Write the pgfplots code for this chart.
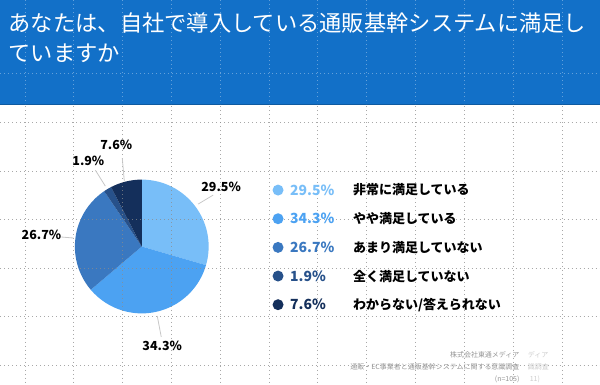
\documentclass[border=0pt]{standalone}
\usepackage{pgfplots}
\pgfplotsset{compat=1.18}
\usepackage{fontspec}
\setmainfont{Noto Sans CJK JP}
\definecolor{bar}{RGB}{18,112,200}
\definecolor{c1}{RGB}{120,190,248}
\definecolor{c2}{RGB}{76,162,242}
\definecolor{c3}{RGB}{58,120,192}
\definecolor{c4}{RGB}{39,81,138}
\definecolor{c5}{RGB}{20,47,91}
\definecolor{gridc}{RGB}{140,140,140}
\definecolor{lead}{RGB}{200,200,200}
\definecolor{foot}{RGB}{150,150,150}
\definecolor{ghost}{RGB}{205,205,205}
\begin{document}
\begin{tikzpicture}
\begin{axis}[x=1pt,y=1pt,xmin=0,xmax=600,ymin=0,ymax=384,y dir=reverse,
  hide axis,clip=false]
\pgfplotsextra{
  % background and title bar
  \fill[white] (axis cs:0,0) rectangle (axis cs:600,384);
  \fill[bar] (axis cs:0,0) rectangle (axis cs:600,105);
  \draw[bar!80!black,line width=1pt] (axis cs:0,104.5) -- (axis cs:600,104.5);
  % pie
  \def\cx{141.5}\def\cy{246.5}\def\R{67}
  \gdef\cum{0}
  \foreach \p/\c in {29.5/c1,34.3/c2,26.7/c3,1.9/c4,7.6/c5}{
    \pgfmathsetmacro\a{90-3.6*\cum}
    \pgfmathsetmacro\b{90-3.6*(\cum+\p)}
    \fill[\c] (axis cs:\cx,\cy) -- ++(\a:\R pt) arc[start angle=\a,end angle=\b,radius=\R pt] -- cycle;
    \pgfmathsetmacro\n{\cum+\p}\xdef\cum{\n}
  }
  % grid
  \foreach \gx in {24.5,73.4,122.3,171.2,220.1,269,317.9,366.8,415.7,464.6,513.5,562.4}{
    \draw[gridc,opacity=0.75,line width=0.8pt,dash pattern=on 0.8pt off 3.2pt] (axis cs:\gx,106) -- (axis cs:\gx,384);
    \draw[white,opacity=0.35,line width=0.8pt,dash pattern=on 0.8pt off 3.2pt] (axis cs:\gx,0) -- (axis cs:\gx,104);
  }
  \foreach \gy in {122,171,219.5,268,317,366}{
    \draw[gridc,opacity=0.75,line width=0.8pt,dash pattern=on 0.8pt off 3.2pt] (axis cs:0,\gy) -- (axis cs:600,\gy);
  }
  \draw[white,opacity=0.35,line width=0.8pt,dash pattern=on 0.8pt off 3.2pt] (axis cs:0,73) -- (axis cs:600,73);
  % leader lines
  \draw[lead,line width=0.8pt] (axis cs:198,204) -- (axis cs:213,195);
  \draw[lead,line width=0.8pt] (axis cs:157,316) -- (axis cs:161,337);
  \draw[lead,line width=0.8pt] (axis cs:73,238) -- (axis cs:61,237);
  \draw[lead,line width=0.8pt] (axis cs:105,186) -- (axis cs:95,170);
  \draw[lead,line width=0.8pt] (axis cs:124,181) -- (axis cs:122,158);
  % pie labels
  \foreach \lx/\ly/\t in {221/187/29.5, 162/346/34.3, 41/235/26.7, 88/161/1.9, 116/145/7.6}{
    \node[inner sep=0,font=\fontsize{12.5}{14}\selectfont\bfseries] at (axis cs:\lx,\ly) {\t\%};
  }
  % title
  \node[anchor=west,inner sep=0,text=white,font=\fontsize{22.3}{26}\selectfont] at (axis cs:8,22.5) {あなたは、自社で導入している通販基幹システムに満足し};
  \node[anchor=west,inner sep=0,text=white,font=\fontsize{22.3}{26}\selectfont] at (axis cs:8,52.5) {ていますか};
  % legend
  \foreach \ly/\c/\p/\t in {190/c1/29.5/{非常に満足している}, 218.7/c2/34.3/{やや満足している}, 247.4/c3/26.7/{あまり満足していない}, 276.1/c4/1.9/{全く満足していない}, 304.8/c5/7.6/{わからない/答えられない}}{
    \fill[\c] (axis cs:278,\ly) circle[radius=5.5pt];
    \node[anchor=west,inner sep=0,text=\c,font=\fontsize{14}{16}\selectfont\bfseries] at (axis cs:290,\ly) {\p\%};
    \node[anchor=west,inner sep=0,font=\fontsize{13}{15}\selectfont\bfseries] at (axis cs:353,\ly) {\t};
  }
  % footer
  \node[anchor=east,inner sep=0,text=foot,font=\fontsize{7}{8}\selectfont] at (axis cs:520,355) {株式会社東通メディア};
  \node[anchor=east,inner sep=0,text=foot,font=\fontsize{7}{8}\selectfont] at (axis cs:520,367.5) {通販・EC事業者と通販基幹システムに関する意識調査};
  \node[anchor=east,inner sep=0,text=foot,font=\fontsize{7}{8}\selectfont] at (axis cs:520,380) {(n=105)};
  \node[anchor=west,inner sep=0,text=ghost,font=\fontsize{7}{8}\selectfont] at (axis cs:528,355) {ディア};
  \node[anchor=west,inner sep=0,text=ghost,font=\fontsize{7}{8}\selectfont] at (axis cs:528,367.5) {識調査};
  \node[anchor=west,inner sep=0,text=ghost,font=\fontsize{7}{8}\selectfont] at (axis cs:530,380) {11)};
}
\end{axis}
\end{tikzpicture}
\end{document}
